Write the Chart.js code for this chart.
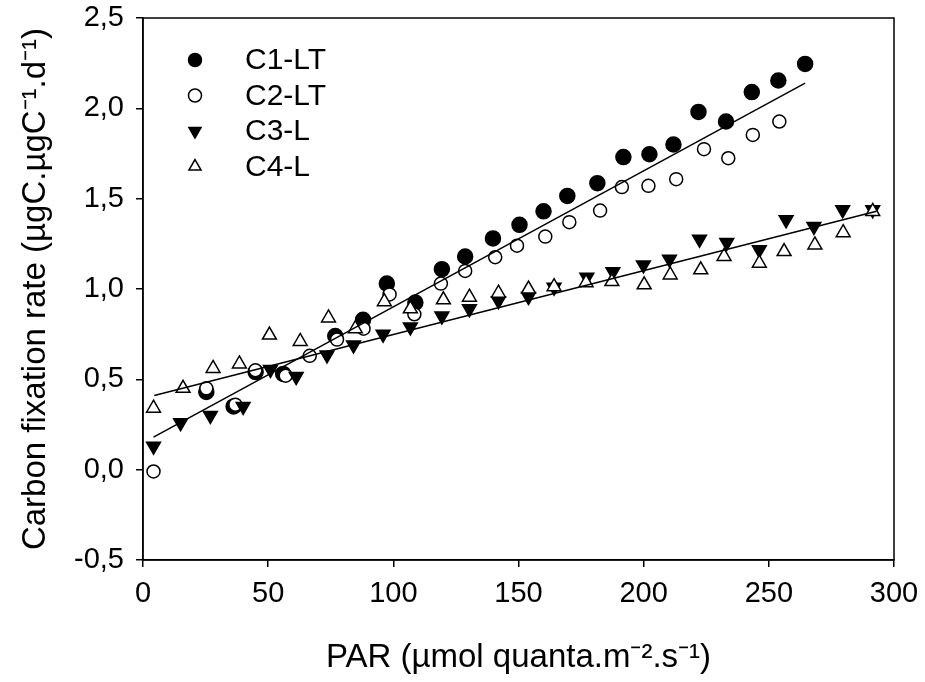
<!DOCTYPE html>
<html>
<head>
<meta charset="utf-8">
<script src="https://cdn.jsdelivr.net/npm/chart.js@4/dist/chart.umd.min.js"></script>
<style>
  html, body { margin: 0; padding: 0; background: #fff; }
  #wrap { width: 925px; height: 682px; }
</style>
</head>
<body>
<div id="wrap"><canvas id="grafico" width="925" height="682"></canvas></div>
<script>
// valores (PAR, taxa de fixação)
const c1x = [25.3, 36.2, 45, 56, 76.8, 87.9, 97.4, 108.8, 119.4, 128.7, 139.8, 150.4, 160, 169.5, 181.5, 191.9, 202.3, 211.9, 221.9, 232.9, 243.2, 253.8, 264.5];
const c1y = [0.43, 0.35, 0.54, 0.53, 0.74, 0.83, 1.03, 0.925, 1.11, 1.18, 1.28, 1.355, 1.43, 1.515, 1.586, 1.73, 1.746, 1.80, 1.98, 1.927, 2.09, 2.154, 2.246];

const c2x = [4.2, 25.3, 36.9, 44.9, 57, 66.6, 77.5, 88.1, 98.5, 108.4, 119, 128.7, 140.7, 149.4, 160.7, 170.3, 182.6, 191.3, 201.9, 213, 224.1, 233.8, 243.6, 254.2];
const c2y = [-0.01, 0.45, 0.36, 0.55, 0.52, 0.63, 0.72, 0.78, 0.97, 0.86, 1.03, 1.10, 1.176, 1.24, 1.29, 1.37, 1.434, 1.564, 1.571, 1.608, 1.774, 1.724, 1.853, 1.927];

const c3x = [4.2, 15, 26.9, 40, 50.9, 61.2, 73.5, 84.1, 95.9, 106.8, 119.4, 130.4, 142, 154, 164.2, 177.3, 187.7, 199.9, 210.3, 222.3, 233.2, 246.2, 256.9, 268, 279.5, 291.5];
const c3y = [0.13, 0.26, 0.30, 0.35, 0.555, 0.515, 0.635, 0.69, 0.75, 0.79, 0.85, 0.89, 0.935, 0.958, 1.01, 1.065, 1.096, 1.133, 1.165, 1.276, 1.257, 1.217, 1.383, 1.346, 1.438, 1.438];

const c4x = [4.2, 16, 28, 38.5, 50.5, 62.8, 74.1, 84.8, 96.4, 106.8, 120, 130.4, 142, 154, 164.2, 177, 187.3, 200.2, 210.6, 222.8, 232.1, 246.2, 256.1, 268.4, 279.7, 291.5];
const c4y = [0.34, 0.45, 0.56, 0.585, 0.745, 0.71, 0.84, 0.78, 0.93, 0.89, 0.94, 0.955, 0.977, 1.0, 1.013, 1.035, 1.041, 1.023, 1.078, 1.106, 1.18, 1.143, 1.207, 1.244, 1.312, 1.429];

// retas de regressão (extremos)
const retaLTx = [4.2, 264.5];
const retaLTy = [0.18, 2.14];
const retaLx = [4.5, 293];
const retaLy = [0.41, 1.43];

const series = ["C1-LT", "C2-LT", "C3-L", "C4-L"];
const xTicks = [0, 50, 100, 150, 200, 250, 300];
const yTicks = [-0.5, 0, 0.5, 1.0, 1.5, 2.0, 2.5];

const fonte = "'Liberation Sans', Arial, sans-serif";

function pontos(xs, ys) {
    return xs.map((x, i) => ({ x: x, y: ys[i] }));
}

// legenda dentro da área do gráfico
const legendaInterna = {
    id: "legendaInterna",
    afterDraw(chart) {
        const ctx = chart.ctx;
        const x0 = 195, y0 = 60, passo = 35.5;
        ctx.save();
        ctx.font = "30px " + fonte;
        ctx.textBaseline = "middle";
        chart.data.datasets.filter(d => d.noLegend !== true).forEach((d, i) => {
            const y = y0 + i * passo;
            ctx.fillStyle = d.backgroundColor;
            ctx.strokeStyle = "#000";
            ctx.lineWidth = 1.5;
            Chart.helpers.drawPoint(ctx, {
                pointStyle: d.pointStyle,
                rotation: d.rotation || 0,
                radius: d.pointStyle === "triangle" ? 7 : 6.5,
                borderWidth: 1.5
            }, x0, y);
            ctx.fillStyle = "#000";
            ctx.fillText(d.label, 245, y + 1);
        });
        ctx.restore();
    }
};

// moldura em volta da área do gráfico
const moldura = {
    id: "moldura",
    afterDatasetsDraw(chart) {
        const a = chart.chartArea;
        const ctx = chart.ctx;
        ctx.save();
        ctx.strokeStyle = "#000";
        ctx.lineWidth = 1.5;
        ctx.strokeRect(a.left, a.top, a.right - a.left, a.bottom - a.top);
        ctx.restore();
    }
};

const ctx = document.getElementById("grafico");

new Chart(ctx.getContext("2d"), {
    type: "scatter",
    data: {
        datasets: [
            {
                label: series[0],
                data: pontos(c1x, c1y),
                pointStyle: "circle",
                pointRadius: 7.5,
                backgroundColor: "#000",
                borderColor: "#000",
                borderWidth: 1.5,
                order: 5
            },
            {
                label: series[1],
                data: pontos(c2x, c2y),
                pointStyle: "circle",
                pointRadius: 6.5,
                backgroundColor: "#fff",
                borderColor: "#000",
                borderWidth: 1.5,
                order: 4
            },
            {
                label: series[2],
                data: pontos(c3x, c3y),
                pointStyle: "triangle",
                rotation: 180,
                pointRotation: 180,
                pointRadius: 8,
                backgroundColor: "#000",
                borderColor: "#000",
                borderWidth: 1.5,
                order: 3
            },
            {
                label: series[3],
                data: pontos(c4x, c4y),
                pointStyle: "triangle",
                pointRadius: 8,
                backgroundColor: "#fff",
                borderColor: "#000",
                borderWidth: 1.5,
                order: 2
            },
            {
                label: "reta LT",
                noLegend: true,
                type: "line",
                data: pontos(retaLTx, retaLTy),
                borderColor: "#000",
                borderWidth: 1.5,
                pointRadius: 0,
                fill: false,
                order: 1
            },
            {
                label: "reta L",
                noLegend: true,
                type: "line",
                data: pontos(retaLx, retaLy),
                borderColor: "#000",
                borderWidth: 1.5,
                pointRadius: 0,
                fill: false,
                order: 1
            }
        ]
    },
    options: {
        responsive: false,
        animation: false,
        events: [],
        layout: { padding: { top: 0, right: 31, left: 0, bottom: 0 } },
        plugins: {
            legend: { display: false },
            tooltip: { enabled: false }
        },
        scales: {
            x: {
                type: "linear",
                min: 0,
                max: 300,
                afterFit(s) {
                    s.height = 122;
                    s.paddingLeft = 0;
                    s.paddingRight = 0;
                },
                afterBuildTicks(s) { s.ticks = xTicks.map(v => ({ value: v })); },
                grid: { drawOnChartArea: false, drawTicks: true, tickLength: 7, color: "#000", lineWidth: 1.5 },
                border: { display: true, color: "#000", width: 1.5 },
                ticks: {
                    color: "#000",
                    padding: 10,
                    maxRotation: 0,
                    font: { family: fonte, size: 29 }
                },
                title: {
                    display: true,
                    text: "PAR (µmol quanta.m⁻².s⁻¹)",
                    color: "#000",
                    font: { family: fonte, size: 33 },
                    padding: { top: 0, bottom: 4 }
                }
            },
            y: {
                type: "linear",
                min: -0.5,
                max: 2.5,
                afterFit(s) {
                    s.width = 143;
                    s.paddingTop = 18;
                    s.paddingBottom = 0;
                },
                afterBuildTicks(s) { s.ticks = yTicks.map(v => ({ value: v })); },
                grid: { drawOnChartArea: false, drawTicks: true, tickLength: 7, color: "#000", lineWidth: 1.5 },
                border: { display: true, color: "#000", width: 1.5 },
                ticks: {
                    color: "#000",
                    padding: 12,
                    font: { family: fonte, size: 29 },
                    callback: v => v.toFixed(1).replace(".", ",")
                },
                title: {
                    display: true,
                    text: "Carbon fixation rate (µgC.µgC⁻¹.d⁻¹)",
                    color: "#000",
                    font: { family: fonte, size: 33 },
                    padding: { top: 16, bottom: 0 }
                }
            }
        }
    },
    plugins: [moldura, legendaInterna]
});
</script>
</body>
</html>
